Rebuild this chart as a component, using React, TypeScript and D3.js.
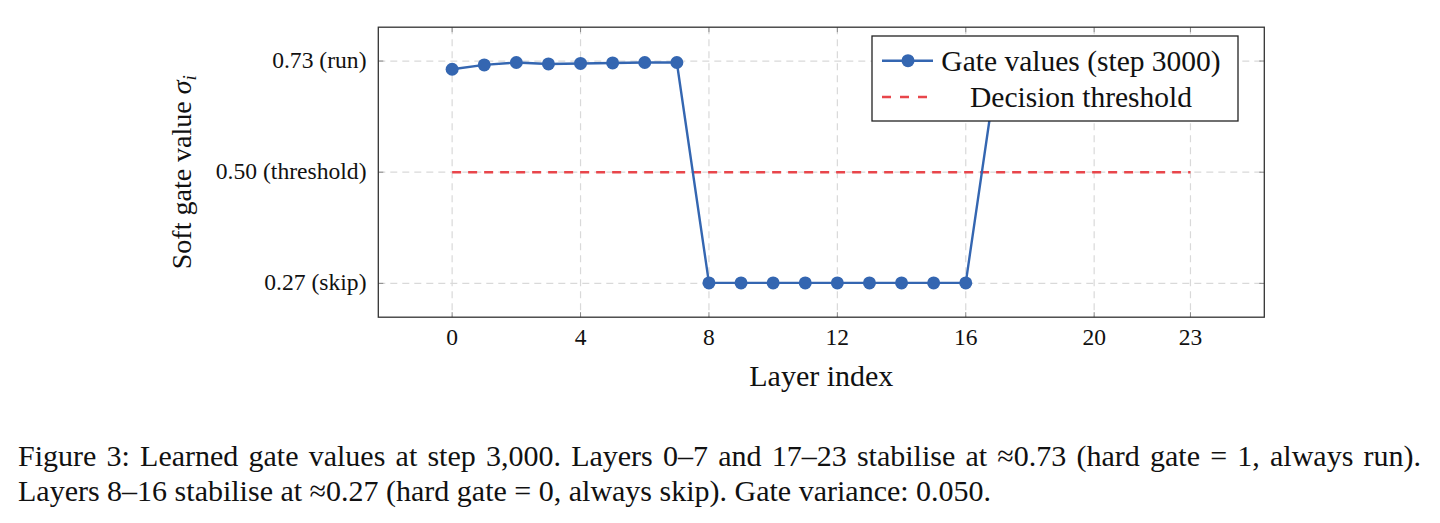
import React, { useLayoutEffect, useRef, useState } from "react";
import * as d3 from "d3";

const layers = [0, 1, 2, 3, 4, 5, 6, 7, 8, 9, 10, 11, 12, 13, 14, 15, 16, 17, 18, 19, 20, 21, 22, 23];
const gateValues = [
  0.713, 0.722, 0.727, 0.724, 0.725, 0.726, 0.727, 0.727,
  0.271, 0.271, 0.271, 0.271, 0.271, 0.271, 0.271, 0.271, 0.271,
  0.727, 0.728, 0.728, 0.728, 0.728, 0.728, 0.728,
];
const thresholdValue = 0.5;
const xTicks = [0, 4, 8, 12, 16, 20, 23];
const yTicks = [0.27, 0.5, 0.73];
const yTickLabels = ["0.27 (skip)", "0.50 (threshold)", "0.73 (run)"];
const legendLabels = ["Gate values (step 3000)", "Decision threshold"];
const captionLines = [
  "Figure 3: Learned gate values at step 3,000. Layers 0–7 and 17–23 stabilise at ≈0.73 (hard gate = 1, always run).",
  "Layers 8–16 stabilise at ≈0.27 (hard gate = 0, always skip). Gate variance: 0.050.",
];

const FONT = "'Liberation Serif', 'Times New Roman', Times, serif";
const BLUE = "#3466b1";
const RED = "#e8464b";
const GRID = "#d9d9d9";

export default function App() {
  const left = 378.3, right = 1264.3, top = 27.2, bottom = 317.2;
  const x = d3.scaleLinear().domain([-2.3, 25.3]).range([left, right]);
  const y = d3.scaleLinear().domain([0.2, 0.8]).range([bottom, top]);
  const line = d3
    .line<number>()
    .x((_, i) => x(layers[i]))
    .y((d) => y(d));

  const lx = 872, ly = 36, lw = 366, lh = 85;
  const row1 = 60.7, row2 = 97;

  const capRef = useRef<SVGTextElement>(null);
  const [wordSpacing, setWordSpacing] = useState(0);
  useLayoutEffect(() => {
    const el = capRef.current;
    if (!el) return;
    const natural = el.getComputedTextLength();
    const spaces = (captionLines[0].match(/ /g) || []).length;
    const target = 1421 - 18;
    setWordSpacing(Math.max(0, (target - natural) / spaces));
  }, []);

  return (
    <svg
      width={1440}
      height={523}
      style={{ position: "absolute", left: 0, top: 0, background: "#fff" }}
      fontFamily={FONT}
    >
      <rect x={0} y={0} width={1440} height={523} fill="#fff" />
      {/* grid */}
      {xTicks.map((t) => (
        <line key={"gx" + t} x1={x(t)} x2={x(t)} y1={top} y2={bottom} stroke={GRID} strokeWidth={1.2} strokeDasharray="7 5" />
      ))}
      {yTicks.map((t) => (
        <line key={"gy" + t} x1={left} x2={right} y1={y(t)} y2={y(t)} stroke={GRID} strokeWidth={1.2} strokeDasharray="7 5" />
      ))}
      {/* tick marks */}
      {xTicks.map((t) => (
        <g key={"tx" + t}>
          <line x1={x(t)} x2={x(t)} y1={bottom} y2={bottom - 5} stroke="#888" strokeWidth={1} />
          <line x1={x(t)} x2={x(t)} y1={top} y2={top + 5} stroke="#888" strokeWidth={1} />
        </g>
      ))}
      {yTicks.map((t) => (
        <g key={"ty" + t}>
          <line x1={left} x2={left + 5} y1={y(t)} y2={y(t)} stroke="#888" strokeWidth={1} />
          <line x1={right} x2={right - 5} y1={y(t)} y2={y(t)} stroke="#888" strokeWidth={1} />
        </g>
      ))}
      {/* threshold */}
      <line
        x1={x(0)}
        x2={x(23)}
        y1={y(thresholdValue)}
        y2={y(thresholdValue)}
        stroke={RED}
        strokeWidth={2.4}
        strokeDasharray="9 7"
      />
      {/* gate line */}
      <path d={line(gateValues) || ""} fill="none" stroke={BLUE} strokeWidth={2.4} />
      {gateValues.map((v, i) => (
        <circle key={"c" + i} cx={x(layers[i])} cy={y(v)} r={6.5} fill={BLUE} />
      ))}
      {/* frame */}
      <rect x={left} y={top} width={right - left} height={bottom - top} fill="none" stroke="#333" strokeWidth={1.3} />
      {/* tick labels */}
      {xTicks.map((t) => (
        <text key={"xl" + t} x={x(t)} y={345} textAnchor="middle" fontSize={23.5} fill="#111">
          {t}
        </text>
      ))}
      {yTicks.map((t, i) => (
        <text key={"yl" + t} x={366.5} y={y(t) + 6.8} textAnchor="end" fontSize={23.6} fill="#111">
          {yTickLabels[i]}
        </text>
      ))}
      {/* axis labels */}
      <text x={(left + right) / 2} y={386} textAnchor="middle" fontSize={30} fill="#111">
        Layer index
      </text>
      <text transform={`translate(191, ${(top + bottom) / 2}) rotate(-90)`} textAnchor="middle" fontSize={28} fill="#111">
        Soft gate value <tspan fontStyle="italic">σ</tspan>
        <tspan fontStyle="italic" fontSize={19} dy={5}>i</tspan>
      </text>
      {/* legend */}
      <rect x={lx} y={ly} width={lw} height={lh} fill="#fff" stroke="#222" strokeWidth={1.3} />
      <line x1={882} x2={933} y1={row1} y2={row1} stroke={BLUE} strokeWidth={2.4} />
      <circle cx={908} cy={row1} r={6.5} fill={BLUE} />
      <line x1={882} x2={927} y1={row2} y2={row2} stroke={RED} strokeWidth={2.4} strokeDasharray="9 9" />
      <text x={1081} y={row1 + 10} textAnchor="middle" fontSize={29.5} fill="#111">
        {legendLabels[0]}
      </text>
      <text x={1081} y={row2 + 10} textAnchor="middle" fontSize={29.5} fill="#111">
        {legendLabels[1]}
      </text>
      {/* caption */}
      <text ref={capRef} x={18} y={466} fontSize={30} fill="#111" wordSpacing={wordSpacing}>
        {captionLines[0]}
      </text>
      <text x={18} y={500.5} fontSize={30} fill="#111">
        {captionLines[1]}
      </text>
    </svg>
  );
}
